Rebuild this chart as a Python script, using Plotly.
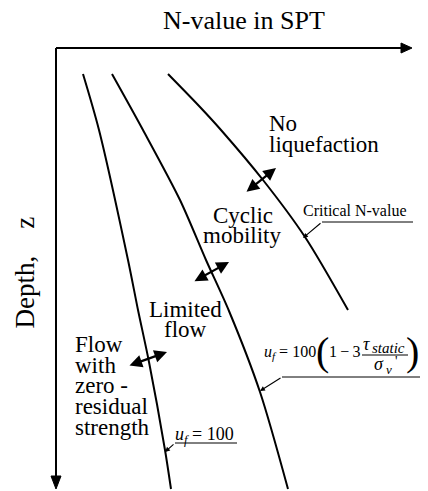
import plotly.graph_objects as go

# ---- data (schematic units: N-value along x, depth z downward) ----
uf100_N = [2.7, 4.3, 7.2, 8.2, 9.3, 10.9, 11.5]
uf100_z = [2.6, 8.2, 21.2, 26.2, 31.4, 40.2, 44.1]

ufstatic_N = [5.6, 8.7, 12.4, 15.0, 17.3, 20.4, 23.2]
ufstatic_z = [2.6, 8.2, 15.2, 21.2, 26.3, 34.4, 44.1]

critical_N = [11.2, 14.4, 16.5, 20.7, 24.9, 29.2]
critical_z = [2.6, 5.9, 8.2, 13.2, 18.9, 26.2]

N_MAX = 35.6   # end of N axis arrow
Z_MAX = 44.1   # end of depth axis arrow

FONT = "Liberation Serif, serif"
BLACK = "#000000"

fig = go.Figure()
for xs, zs in [(uf100_N, uf100_z), (ufstatic_N, ufstatic_z), (critical_N, critical_z)]:
    fig.add_trace(go.Scatter(x=xs, y=zs, mode="lines",
                             line=dict(color=BLACK, width=2, shape="spline", smoothing=0.8),
                             hoverinfo="skip", showlegend=False))

shapes = [
    # axes
    dict(type="line", x0=0, y0=0, x1=N_MAX - 0.8, y1=0, line=dict(color=BLACK, width=2)),
    dict(type="line", x0=0, y0=0, x1=0, y1=Z_MAX - 0.8, line=dict(color=BLACK, width=2)),
    dict(type="path", path=f"M {N_MAX},0 L {N_MAX-1.1},-0.5 L {N_MAX-1.1},0.5 Z",
         fillcolor=BLACK, line=dict(color=BLACK, width=1)),
    dict(type="path", path=f"M 0,{Z_MAX} L -0.5,{Z_MAX-1.3} L 0.5,{Z_MAX-1.3} Z",
         fillcolor=BLACK, line=dict(color=BLACK, width=1)),
    # label underlines
    dict(type="line", x0=26.6, y0=17.4, x1=35.7, y1=17.4, line=dict(color=BLACK, width=1)),
    dict(type="line", x0=22.6, y0=32.9, x1=36.4, y1=32.9, line=dict(color=BLACK, width=1)),
    dict(type="line", x0=11.9, y0=39.5, x1=18.1, y1=39.5, line=dict(color=BLACK, width=1)),
    # fraction bar
    dict(type="line", x0=30.6, y0=30.7, x1=35.2, y1=30.7, line=dict(color=BLACK, width=1)),
]
for s in shapes:
    s.update(xref="x", yref="y", layer="above")

ann = []

def txt(x, y, text, size=23, xanchor="left", angle=0):
    ann.append(dict(x=x, y=y, xref="x", yref="y", text=text, showarrow=False,
                    xanchor=xanchor, yanchor="middle", textangle=angle,
                    font=dict(family=FONT, size=size, color=BLACK)))

def dbl(x0, y0, x1, y1):
    ann.append(dict(x=x1, y=y1, ax=x0, ay=y0, xref="x", yref="y", axref="x", ayref="y",
                    text="", showarrow=True, arrowside="end+start",
                    arrowhead=2, startarrowhead=2, arrowsize=1.15, startarrowsize=1.15,
                    arrowwidth=2.2, arrowcolor=BLACK, standoff=0, startstandoff=0,
                    font=dict(family=FONT, size=10, color=BLACK)))

def leader(x0, y0, x1, y1):
    ann.append(dict(x=x1, y=y1, ax=x0, ay=y0, xref="x", yref="y", axref="x", ayref="y",
                    text="", showarrow=True, arrowhead=2, arrowsize=0.9,
                    arrowwidth=1.1, arrowcolor=BLACK, standoff=0,
                    font=dict(family=FONT, size=10, color=BLACK)))

# titles
txt(18.8, -2.8, "N-value in SPT", size=26, xanchor="center")
txt(-3.2, 22.45, "Depth,\u00a0\u00a0\u00a0\u00a0z", size=27, xanchor="center", angle=-90)

# region labels
txt(21.1, 7.5, "No")
txt(21.1, 9.6, "liquefaction")
txt(18.7, 16.7, "Cyclic", xanchor="center")
txt(18.6, 18.7, "mobility", xanchor="center")
txt(12.9, 26.1, "Limited", xanchor="center")
txt(12.9, 28.1, "flow", xanchor="center")
txt(1.7, 29.6, "Flow")
txt(1.7, 31.7, "with")
txt(1.7, 33.7, "zero -")
txt(1.7, 35.8, "residual")
txt(1.7, 37.9, "strength")

# double arrows between regions
dbl(18.9, 14.5, 22.0, 12.0)
dbl(13.7, 23.4, 17.3, 21.4)
dbl(7.2, 31.8, 11.1, 30.4)

# curve labels
txt(24.5, 16.25, "Critical N-value", size=16)
leader(26.6, 17.4, 24.7, 19.0)

txt(11.7, 38.7, "<i>u<sub>f</sub></i> = 100", size=18)
leader(11.9, 39.5, 10.9, 40.4)

txt(20.6, 30.4, "<i>u<sub>f</sub></i> = 100", size=16)
txt(26.6, 30.3, "(", size=40, xanchor="center")
txt(28.8, 30.3, "1\u2009\u2212\u20093", size=16, xanchor="center")
txt(31.0, 29.6, "<i>\u03c4</i>", size=18, xanchor="center")
txt(31.4, 30.0, "<i>static</i>", size=15)
txt(32.3, 31.6, "<i>\u03c3</i>", size=18, xanchor="center")
txt(33.3, 32.1, "<i>v</i>", size=13, xanchor="center")
txt(34.0, 31.3, "'", size=14, xanchor="center")
txt(35.6, 30.3, ")", size=40, xanchor="center")
leader(22.6, 32.9, 20.4, 34.3)

fig.update_layout(
    width=428, height=491,
    margin=dict(l=0, r=0, t=0, b=0),
    paper_bgcolor="white", plot_bgcolor="white",
    xaxis=dict(range=[-5.6, 37.2], visible=False, fixedrange=True),
    yaxis=dict(range=[44.3, -4.8], visible=False, fixedrange=True),
    shapes=shapes, annotations=ann, showlegend=False,
)

# remove the default 8px page margin so the figure fills the window exactly
fig.write_html("out.html",
               config={"displayModeBar": False, "staticPlot": True},
               post_script="document.body.style.margin='0px';document.body.style.overflow='hidden';")
